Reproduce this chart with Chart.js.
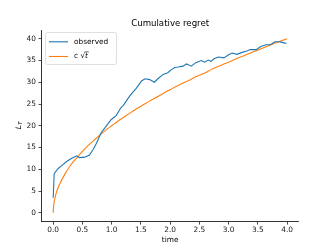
<!DOCTYPE html>
<html>
<head>
<meta charset="utf-8">
<script src="https://cdn.jsdelivr.net/npm/chart.js@4/dist/chart.umd.min.js"></script>
<style>
  html, body { margin: 0; padding: 0; background: #fff; }
  #wrap { width: 332px; height: 249px; }
</style>
</head>
<body>
<div id="wrap"><canvas id="regretChart" width="332" height="249"></canvas></div>
<script>
// Observed cumulative regret
const obsTime = [0, 0.017, 0.085, 0.14, 0.23, 0.31, 0.37, 0.40, 0.45, 0.54, 0.62, 0.68, 0.74, 0.82, 0.91,
  0.99, 1.08, 1.16, 1.20, 1.28, 1.34, 1.42, 1.51, 1.57, 1.65, 1.73, 1.79, 1.88, 1.96, 2.02, 2.08, 2.14,
  2.22, 2.28, 2.36, 2.44, 2.53, 2.59, 2.65, 2.70, 2.75, 2.83, 2.92, 3.00, 3.06, 3.14, 3.22, 3.31, 3.37,
  3.47, 3.55, 3.64, 3.72, 3.79, 3.87, 3.93, 3.99];
const obsValues = [3.5, 9.0, 10.2, 10.8, 11.8, 12.5, 12.9, 13.1, 12.7, 12.8, 13.3, 14.5, 16.0, 18.4, 20.0,
  21.4, 22.4, 24.2, 24.7, 26.3, 27.4, 28.6, 30.3, 30.8, 30.6, 30.0, 30.8, 31.8, 32.2, 32.9, 33.4, 33.5,
  33.7, 34.2, 33.7, 34.5, 35.0, 34.6, 35.1, 34.8, 35.4, 35.8, 35.6, 36.3, 36.7, 36.4, 36.8, 37.2, 37.5,
  37.5, 38.2, 38.6, 38.6, 39.3, 39.3, 39.1, 38.9];

// c·sqrt(t) reference curve
const fitTime = [0, 0.01, 0.02, 0.05, 0.1, 0.2, 0.3, 0.4, 0.5, 0.6, 0.7, 0.8, 0.9, 1.0, 1.1, 1.2, 1.3, 1.4,
  1.5, 1.6, 1.7, 1.8, 1.9, 2.0, 2.1, 2.2, 2.3, 2.4, 2.5, 2.6, 2.7, 2.8, 2.9, 3.0, 3.1, 3.2, 3.3, 3.4, 3.5,
  3.6, 3.7, 3.8, 3.9, 4.0];
const fitValues = [0, 2.0, 2.8, 4.5, 6.3, 8.9, 11.0, 12.6, 14.1, 15.5, 16.7, 17.9, 19.0, 20.0, 21.0, 21.9,
  22.8, 23.7, 24.5, 25.3, 26.1, 26.8, 27.6, 28.3, 29.0, 29.7, 30.3, 31.0, 31.6, 32.2, 32.9, 33.5, 34.1,
  34.6, 35.2, 35.8, 36.3, 36.9, 37.4, 37.9, 38.5, 39.0, 39.5, 40.0];

const xTicks = [0, 0.5, 1, 1.5, 2, 2.5, 3, 3.5, 4];
const yTicks = [0, 5, 10, 15, 20, 25, 30, 35, 40];
const seriesLabels = ['observed', 'c \u221At'];

const FONT = 'DejaVu Sans';
const BLUE = '#1f77b4';
const ORANGE = '#ff7f0e';

// Title, axis titles and legend box in matplotlib style
const decorations = {
  id: 'decorations',
  afterDraw(chart) {
    const ctx = chart.ctx;
    const area = chart.chartArea;
    ctx.save();
    ctx.fillStyle = '#000';
    ctx.textAlign = 'center';
    ctx.textBaseline = 'middle';

    ctx.font = `8.6px "${FONT}"`;
    ctx.fillText('Cumulative regret', (area.left + area.right) / 2, 23.5);

    ctx.font = `7.4px "${FONT}"`;
    ctx.fillText('time', (area.left + area.right) / 2, 240.5);

    // y label: italic L with subscript T
    ctx.translate(19, (area.top + area.bottom) / 2);
    ctx.rotate(-Math.PI / 2);
    ctx.textAlign = 'left';
    ctx.font = `italic 7.6px "${FONT}"`;
    ctx.fillText('L', -3.5, 0);
    ctx.font = `italic 5.4px "${FONT}"`;
    ctx.fillText('T', 1, 1.8);
    ctx.restore();

    // legend
    ctx.save();
    const bx = 45.5, by = 32.5, bw = 71, bh = 32;
    ctx.globalAlpha = 0.8;
    ctx.fillStyle = '#fff';
    ctx.strokeStyle = '#cccccc';
    ctx.lineWidth = 0.8;
    ctx.beginPath();
    ctx.roundRect(bx, by, bw, bh, 2);
    ctx.fill();
    ctx.stroke();
    ctx.globalAlpha = 1;

    const rows = [41.8, 56.5];
    chart.data.datasets.forEach((ds, i) => {
      ctx.strokeStyle = ds.borderColor;
      ctx.lineWidth = 1.1;
      ctx.beginPath();
      ctx.moveTo(49, rows[i]);
      ctx.lineTo(68, rows[i]);
      ctx.stroke();
    });
    ctx.fillStyle = '#000';
    ctx.textAlign = 'left';
    ctx.textBaseline = 'middle';
    ctx.font = `7.4px "${FONT}"`;
    ctx.fillText(seriesLabels[0], 74, rows[0]);
    ctx.fillText('c ', 74, rows[1]);
    const cw = ctx.measureText('c ').width;
    ctx.fillText('\u221A', 74 + cw, rows[1]);
    const rw = ctx.measureText('\u221A').width;
    ctx.font = `italic 7.4px "${FONT}"`;
    const tx = 74 + cw + rw;
    ctx.fillText('t', tx, rows[1]);
    const tw = ctx.measureText('t').width;
    ctx.strokeStyle = '#000';
    ctx.lineWidth = 0.6;
    ctx.beginPath();
    ctx.moveTo(tx - 0.5, rows[1] - 4.6);
    ctx.lineTo(tx + tw + 0.8, rows[1] - 4.6);
    ctx.stroke();
    ctx.restore();
  }
};

new Chart(document.getElementById('regretChart').getContext('2d'), {
  type: 'line',
  data: {
    datasets: [{
      label: seriesLabels[0],
      data: obsTime.map((t, i) => ({ x: t, y: obsValues[i] })),
      borderColor: BLUE,
      borderWidth: 1.1,
      pointRadius: 0,
      tension: 0
    }, {
      label: seriesLabels[1],
      data: fitTime.map((t, i) => ({ x: t, y: fitValues[i] })),
      borderColor: ORANGE,
      borderWidth: 1.1,
      pointRadius: 0,
      tension: 0.3
    }]
  },
  options: {
    responsive: false,
    animation: false,
    layout: { padding: { top: 30, right: 33.2, left: 0, bottom: 0 } },
    plugins: { legend: { display: false }, title: { display: false }, tooltip: { enabled: false } },
    scales: {
      x: {
        type: 'linear',
        min: -0.2,
        max: 4.2,
        afterBuildTicks: s => { s.ticks = xTicks.map(v => ({ value: v })); },
        afterFit: s => { s.height = 27.4; },
        grid: { drawOnChartArea: false, drawTicks: true, tickLength: 3, color: '#000', lineWidth: 0.7 },
        border: { color: '#000', width: 0.8 },
        ticks: {
          autoSkip: false, maxRotation: 0, padding: 1.5, color: '#222',
          font: { family: FONT, size: 7.4 },
          callback: v => v.toFixed(1)
        }
      },
      y: {
        type: 'linear',
        min: -2,
        max: 42,
        afterBuildTicks: s => { s.ticks = yTicks.map(v => ({ value: v })); },
        afterFit: s => { s.width = 41.5; },
        grid: { drawOnChartArea: false, drawTicks: true, tickLength: 3, color: '#000', lineWidth: 0.7 },
        border: { color: '#000', width: 0.8 },
        ticks: {
          autoSkip: false, padding: 2.5, color: '#222',
          font: { family: FONT, size: 7.4 }
        }
      }
    }
  },
  plugins: [decorations]
});
</script>
</body>
</html>
